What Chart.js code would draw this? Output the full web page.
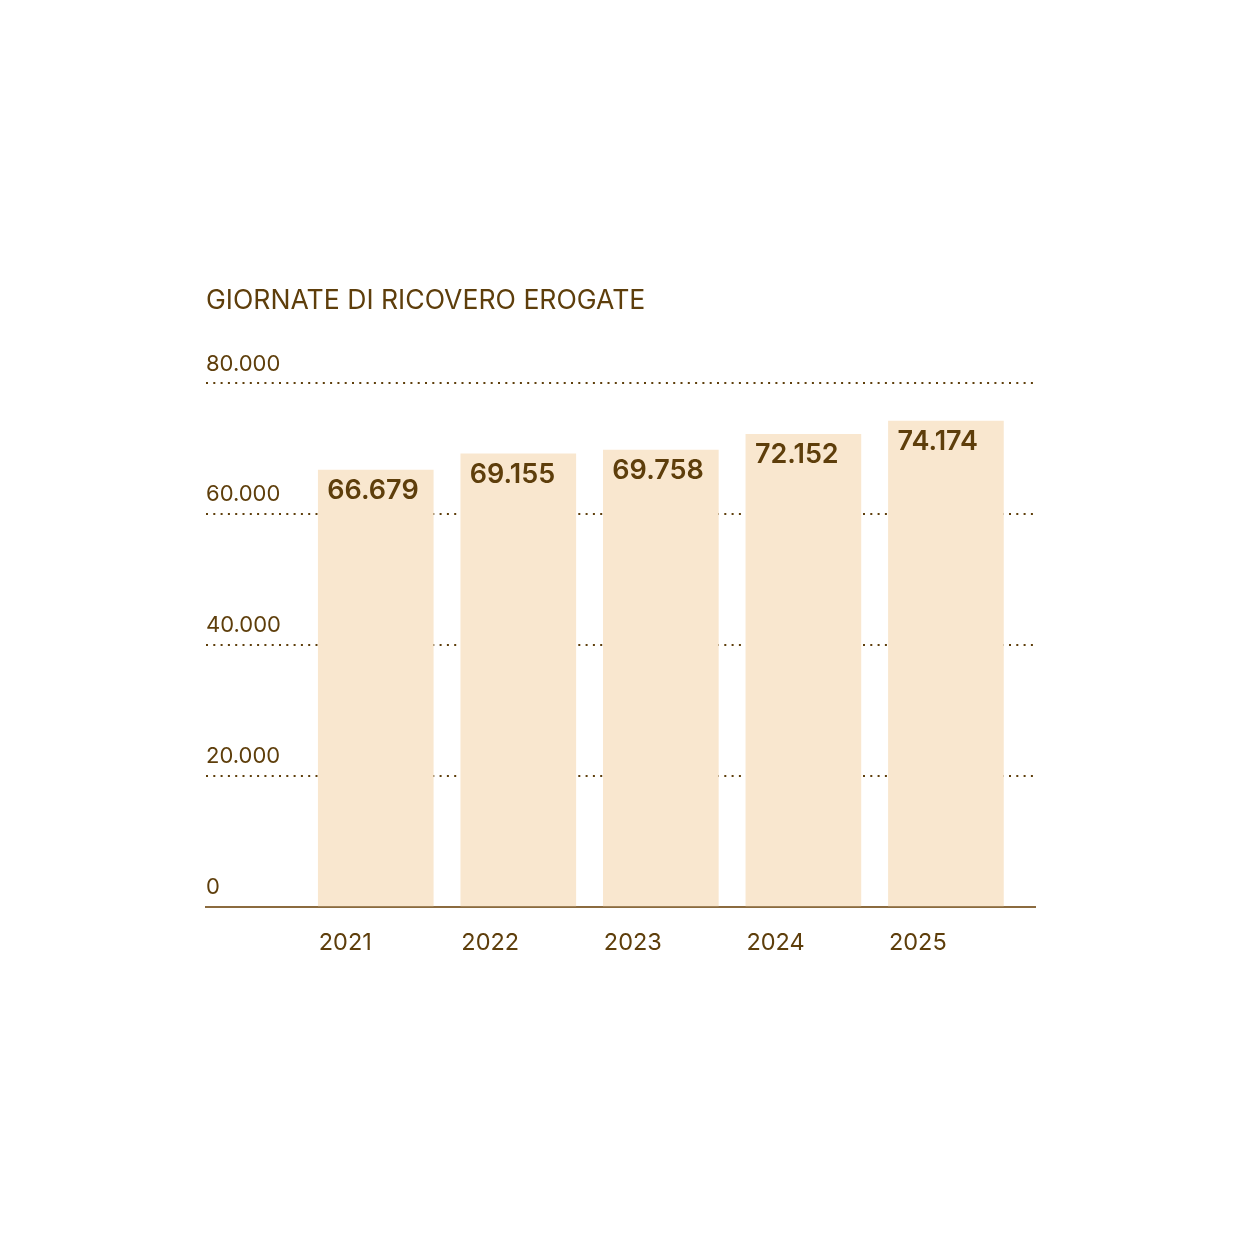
<!DOCTYPE html>
<html lang="it">
<head>
<meta charset="utf-8">
<title>Giornate di ricovero erogate</title>
<script src="https://cdn.jsdelivr.net/npm/chart.js@4.4.1/dist/chart.umd.min.js"></script>
<style>
  html, body { margin: 0; padding: 0; background: #fff; }
  #wrap { width: 1240px; height: 1240px; }
</style>
</head>
<body>
<div id="wrap"><canvas id="grafico"></canvas></div>
<script>
// dati
const anni = [2021, 2022, 2023, 2024, 2025];
const giornate = [66679, 69155, 69758, 72152, 74174];
const tickAsseY = [0, 20000, 40000, 60000, 80000];
const titolo = 'GIORNATE DI RICOVERO EROGATE';

const marrone = '#5e3e0b';
const coloreBarre = '#f9e7cf';
const coloreBase = '#8b6b3f';
const font = 'Inter';

// separatore migliaia all'italiana
function formatta(n) {
    return String(n).replace(/\B(?=(\d{3})+(?!\d))/g, '.');
}

// etichette dei valori dentro le barre, in alto a sinistra
const etichetteValori = {
    id: 'etichetteValori',
    afterDatasetsDraw(chart) {
        const ctx = chart.ctx;
        const meta = chart.getDatasetMeta(0);
        ctx.save();
        ctx.fillStyle = marrone;
        ctx.font = '600 27px ' + font;
        ctx.textAlign = 'left';
        ctx.textBaseline = 'middle';
        meta.data.forEach((bar, i) => {
            const sinistra = bar.x - bar.width / 2;
            ctx.fillText(formatta(giornate[i]), sinistra + 9, bar.y + 21);
        });
        ctx.restore();
    }
};

const graph = document.querySelector('#grafico');

const data = {
    datasets: [{
        data: anni.map((a, i) => ({ x: a, y: giornate[i] })),
        backgroundColor: coloreBarre,
        barThickness: 115,
        borderWidth: 0
    }]
};

const config = {
    type: 'bar',
    data: data,
    plugins: [etichetteValori],
    options: {
        responsive: true,
        maintainAspectRatio: false,
        animation: false,
        layout: {
            padding: { left: 206, right: 205, top: 285, bottom: 261 }
        },
        plugins: {
            legend: { display: false },
            tooltip: { enabled: false },
            title: {
                display: true,
                text: titolo,
                align: 'start',
                color: marrone,
                font: { family: font, size: 26.6, weight: '400' },
                padding: { top: 0, bottom: 66 }
            }
        },
        scales: {
            x: {
                type: 'linear',
                offset: false,
                min: 2019.809,
                max: 2025.625,
                z: 1,
                afterBuildTicks: axis => { axis.ticks = anni.map(v => ({ value: v })); },
                grid: { display: false, drawTicks: false, offset: false },
                border: { display: true, color: coloreBase, width: 2 },
                ticks: {
                    align: 'start',
                    labelOffset: -57,
                    padding: 22,
                    color: marrone,
                    font: { family: font, size: 23.5 },
                    callback: v => String(v)
                }
            },
            y: {
                min: 0,
                max: 80000,
                afterBuildTicks: axis => { axis.ticks = tickAsseY.map(v => ({ value: v })); },
                grid: {
                    drawTicks: false,
                    lineWidth: 2,
                    color: ctx => ctx.tick && ctx.tick.value === 0 ? 'rgba(0,0,0,0)' : marrone
                },
                border: { display: false, dash: [2, 5.3] },
                ticks: {
                    mirror: true,
                    padding: 0,
                    labelOffset: -19,
                    color: marrone,
                    font: { family: font, size: 22 },
                    callback: v => formatta(v)
                }
            }
        }
    }
};

const chartInstance = new Chart(graph, config);
</script>
</body>
</html>
